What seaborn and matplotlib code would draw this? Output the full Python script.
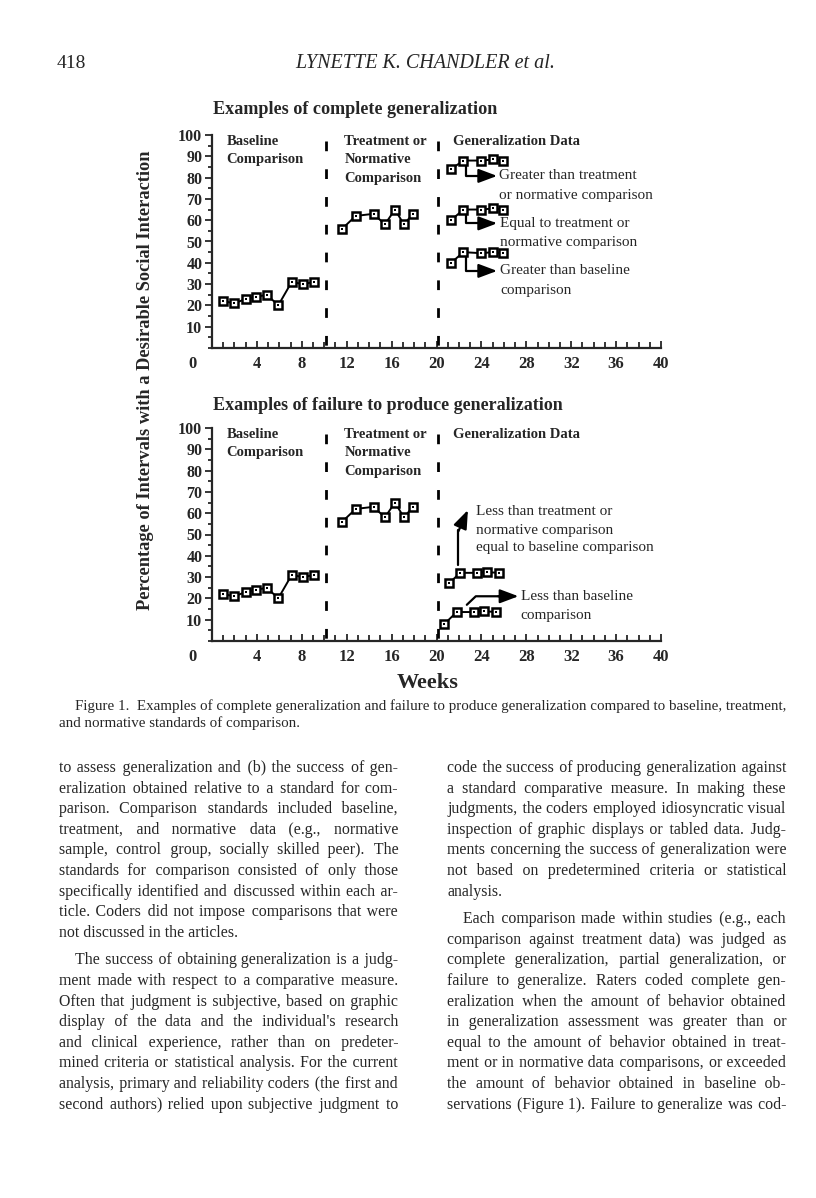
import matplotlib
matplotlib.use("Agg")
import matplotlib.pyplot as plt
import seaborn as sns
from matplotlib.ticker import MultipleLocator
from matplotlib.font_manager import FontProperties

W, H = 816, 1198  # page size in pixels

# data (weeks, percentage of intervals)
baseline_weeks = [1.0, 2.0, 3.0, 3.9, 4.9, 5.9, 7.1, 8.1, 9.1]
baseline_pct = [22, 21, 23, 24, 25, 20, 31, 30, 31]
treatment_weeks = [11.6, 12.8, 14.4, 15.4, 16.3, 17.1, 17.9]
treatment_pct = [56, 62, 63, 58, 65, 58, 63]

complete_weeks = [21.3, 22.4, 24.0, 25.0, 25.9]
greater_than_treatment = [84, 88, 88, 88.5, 88]
equal_to_treatment = [60, 65, 65, 65.5, 65]
greater_than_baseline = [40, 45, 44.5, 45, 44.5]

failure_weeks_a = [21.1, 22.1, 23.6, 24.5, 25.6]
less_than_treatment = [27, 32, 32, 32.3, 32]
failure_weeks_b = [20.7, 21.8, 23.3, 24.2, 25.3]
less_than_baseline = [8, 13.6, 13.6, 14, 13.6]

phase_lines = [10.15, 20.1]
x_ticks = [4, 8, 12, 16, 20, 24, 28, 32, 36, 40]
y_ticks = [10, 20, 30, 40, 50, 60, 70, 80, 90, 100]

phase_labels = [
    ("Baseline", 1.3, 97), ("Comparison", 1.3, 88.4),
    ("Treatment or", 11.8, 97), ("Normative", 11.8, 88.4),
    ("Comparison", 11.8, 79.8), ("Generalization Data", 21.5, 97),
]
top_notes = [
    ("Greater than treatment", 25.6, 80.8), ("or normative comparison", 25.6, 71.5),
    ("Equal to treatment or", 25.7, 58.5), ("normative comparison", 25.7, 49.5),
    ("Greater than baseline", 25.7, 36.2), ("comparison", 25.7, 27.2),
]
bottom_notes = [
    ("Less than treatment or", 23.5, 60.7), ("normative comparison", 23.5, 52.1),
    ("equal to baseline comparison", 23.5, 43.8),
    ("Less than baseline", 27.5, 20.8), ("comparison", 27.5, 12.2),
]
top_arrows = [(85.5, 80.8), (62.5, 58.5), (42.5, 36.2)]

left_paras = [
    ["to assess generalization and (b) the success of gen-",
     "eralization obtained relative to a standard for com-",
     "parison. Comparison standards included baseline,",
     "treatment, and normative data (e.g., normative",
     "sample, control group, socially skilled peer). The",
     "standards for comparison consisted of only those",
     "specifically identified and discussed within each ar-",
     "ticle. Coders did not impose comparisons that were",
     "not discussed in the articles."],
    ["The success of obtaining generalization is a judg-",
     "ment made with respect to a comparative measure.",
     "Often that judgment is subjective, based on graphic",
     "display of the data and the individual's research",
     "and clinical experience, rather than on predeter-",
     "mined criteria or statistical analysis. For the current",
     "analysis, primary and reliability coders (the first and",
     "second authors) relied upon subjective judgment to"],
]
right_paras = [
    ["code the success of producing generalization against",
     "a standard comparative measure. In making these",
     "judgments, the coders employed idiosyncratic visual",
     "inspection of graphic displays or tabled data. Judg-",
     "ments concerning the success of generalization were",
     "not based on predetermined criteria or statistical",
     "analysis."],
    ["Each comparison made within studies (e.g., each",
     "comparison against treatment data) was judged as",
     "complete generalization, partial generalization, or",
     "failure to generalize. Raters coded complete gen-",
     "eralization when the amount of behavior obtained",
     "in generalization assessment was greater than or",
     "equal to the amount of behavior obtained in treat-",
     "ment or in normative data comparisons, or exceeded",
     "the amount of behavior obtained in baseline ob-",
     "servations (Figure 1). Failure to generalize was cod-"],
]
caption = ["Figure 1.  Examples of complete generalization and failure to produce generalization compared to baseline, treatment,",
           "and normative standards of comparison."]

sns.set_style("ticks")
plt.rcParams['font.family'] = ['Liberation Serif', 'DejaVu Serif']

fig = plt.figure(figsize=(W / 100, H / 100), dpi=100)
renderer = fig.canvas.get_renderer()


def px(x, y):
    return x / W, 1 - y / H


def series(ax, x, y):
    sns.lineplot(x=x, y=y, ax=ax, color="black", linewidth=1.4, sort=False,
                 estimator=None, marker="s", markersize=5.8,
                 markerfacecolor="white", markeredgecolor="black",
                 markeredgewidth=1.8)
    sns.scatterplot(x=x, y=y, ax=ax, marker="s", s=2, color="black",
                    linewidth=0, zorder=5)


def setup(ax):
    ax.set_xlim(0, 40)
    ax.set_ylim(0, 100)
    sns.despine(ax=ax)
    for s in ("left", "bottom"):
        ax.spines[s].set_linewidth(1.6)
    ax.set_xticks(x_ticks, labels=[str(v) for v in x_ticks],
                  fontweight="bold", fontsize=12)
    ax.set_yticks(y_ticks, labels=[str(v) for v in y_ticks],
                  fontweight="bold", fontsize=11.5)
    ax.xaxis.set_minor_locator(MultipleLocator(1))
    ax.yaxis.set_minor_locator(MultipleLocator(5))
    ax.tick_params(axis="x", which="both", direction="in", width=1.3, pad=6)
    ax.tick_params(axis="x", which="major", length=5)
    ax.tick_params(axis="x", which="minor", length=4)
    ax.tick_params(axis="y", which="both", direction="out", width=1.3, pad=2)
    ax.tick_params(axis="y", which="major", length=5)
    ax.tick_params(axis="y", which="minor", length=3)
    ax.text(-1.7, -7.3, "0", ha="center", va="center", fontsize=12,
            fontweight="bold", clip_on=False)
    ax.set_xlabel("")
    ax.set_ylabel("")
    for xv in phase_lines:
        ax.plot([xv, xv], [97, 1], color="black", lw=2, dashes=(3.5, 6.5))
    series(ax, baseline_weeks, baseline_pct)
    series(ax, treatment_weeks, treatment_pct)
    for txt, xv, yv in phase_labels:
        ax.text(xv, yv, txt, ha="left", va="center", fontsize=10.5,
                fontweight="bold", clip_on=False)
    ax.set_facecolor("none")


arrow = dict(arrowstyle="-|>,head_length=0.8,head_width=0.3", color="black",
             lw=1.6, shrinkA=0, shrinkB=0, mutation_scale=14)

# top panel: complete generalization
ax1 = fig.add_axes([212 / W, 1 - 348 / H, 449 / W, 213 / H])
setup(ax1)
for vals in (greater_than_treatment, equal_to_treatment, greater_than_baseline):
    series(ax1, complete_weeks, vals)
for y_start, y_end in top_arrows:
    ax1.annotate("", xy=(25.4, y_end), xytext=(22.6, y_start),
                 arrowprops=dict(arrow, connectionstyle="angle,angleA=90,angleB=0,rad=0"))
for txt, xv, yv in top_notes:
    ax1.text(xv, yv, txt, ha="left", va="center", fontsize=11, clip_on=False)

# bottom panel: failure to generalize
ax2 = fig.add_axes([212 / W, 1 - 641 / H, 449 / W, 213 / H])
setup(ax2)
series(ax2, failure_weeks_a, less_than_treatment)
series(ax2, failure_weeks_b, less_than_baseline)
ax2.plot([21.95, 21.95], [35.5, 52], color="black", lw=1.6)
ax2.annotate("", xy=(22.8, 61.5), xytext=(21.95, 51.5), arrowprops=arrow)
ax2.plot([22.7, 23.5, 26], [17, 21, 21], color="black", lw=1.6)
ax2.annotate("", xy=(27.3, 21), xytext=(25.5, 21), arrowprops=arrow)
for txt, xv, yv in bottom_notes:
    ax2.text(xv, yv, txt, ha="left", va="center", fontsize=11, clip_on=False)

bold = dict(fontweight="bold", va="center")
fig.text(*px(213, 110), "Examples of complete generalization", ha="left", fontsize=13.1, **bold)
fig.text(*px(213, 405), "Examples of failure to produce generalization", ha="left", fontsize=13, **bold)
fig.text(*px(145, 380), "Percentage of Intervals with a Desirable Social Interaction",
         rotation=90, ha="center", fontsize=13.2, **bold)
fig.text(*px(428, 683), "Weeks", ha="center", fontsize=16, **bold)

# running head
fig.text(*px(57, 63), "418", ha="left", va="center", fontsize=14)
fig.text(*px(425, 63), "LYNETTE K. CHANDLER et al.", ha="center", va="center",
         fontsize=14.5, style="italic")


def width_of(s, fp):
    return renderer.get_text_width_height_descent(s, fp, ismath=False)[0]


def put_line(line, x0, y, width, fp, justify):
    # one Text per line; justification by padding the word gaps with hair spaces
    words = line.split(" ")
    text = line
    if justify and len(words) > 1:
        extra = (width - width_of(text, fp)) / (len(words) - 1)
        pad = "\u200a"
        unit = width_of("a" + pad + "a", fp) - width_of("aa", fp)
        if unit < 0.3:
            pad = "\u2009"
            unit = width_of("a" + pad + "a", fp) - width_of("aa", fp)
        if extra > 0 and unit > 0.3:
            # spread the rounding error over the gaps
            total = extra * (len(words) - 1) / unit
            parts, done = [words[0]], 0
            for i, w in enumerate(words[1:], start=1):
                k = int(round(total * i / (len(words) - 1))) - done
                done += k
                parts.append(" " + pad * k + w)
            text = "".join(parts)
    fig.text(*px(x0, y), text, ha="left", va="baseline", fontproperties=fp)


cap_fp = FontProperties(family=["Liberation Serif", "DejaVu Serif"], size=10.8)
put_line(caption[0], 75, 710, 786 - 75, cap_fp, True)
put_line(caption[1], 59, 727, 0, cap_fp, False)

body_fp = FontProperties(family=["Liberation Serif", "DejaVu Serif"], size=11.4)
col_w = 339
line_h = 20.6
for paras, x0 in ((left_paras, 59), (right_paras, 447)):
    y = 772
    for pi, para in enumerate(paras):
        for li, line in enumerate(para):
            indent = 16 if (pi > 0 and li == 0) else 0
            last = li == len(para) - 1 and pi < len(paras) - 1
            put_line(line, x0 + indent, y, col_w - indent, body_fp, not last)
            y += line_h
        y += 7

fig.savefig("out.png", dpi=100)
